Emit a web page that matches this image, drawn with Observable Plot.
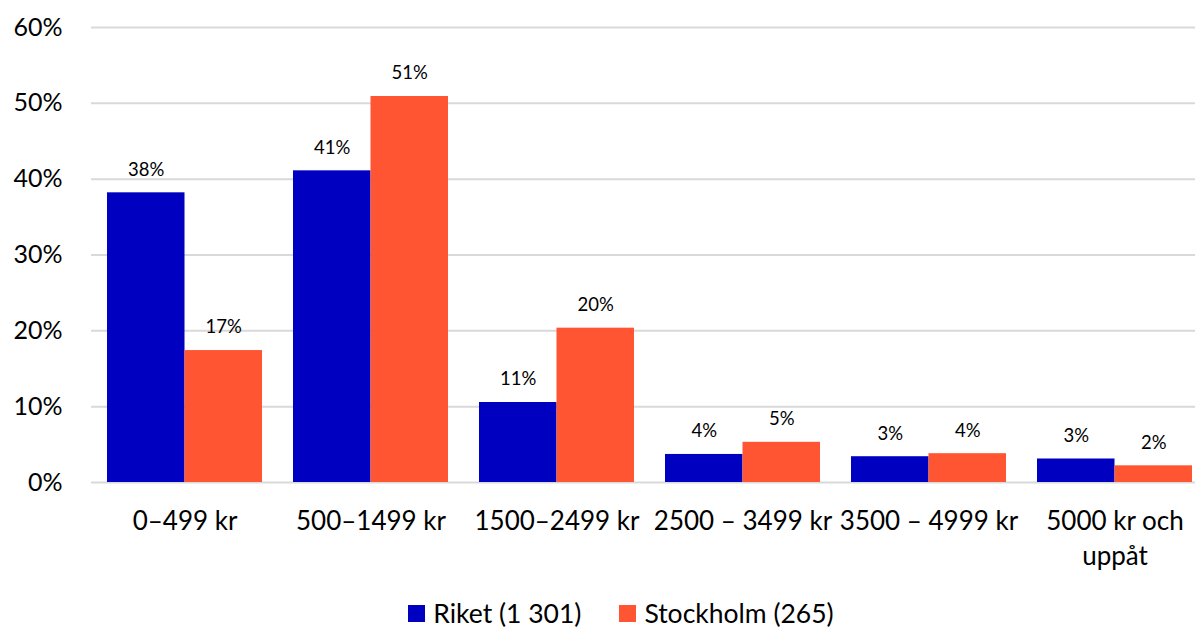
<!DOCTYPE html>
<html>
<head>
<meta charset="utf-8">
<script src="https://cdn.jsdelivr.net/npm/d3@7"></script>
<script src="https://cdn.jsdelivr.net/npm/@observablehq/plot@0.6"></script>
<style>
  body { margin: 0; background: #fff; font-family: Lato, "Open Sans", sans-serif; }
  #chart svg { display: block; }
  .legend { display: flex; justify-content: center; align-items: center; gap: 38px; padding-left: 47px; margin-top: 10px; font-size: 26.5px; line-height: 1; color: #000; }
  .legend .item { display: flex; align-items: center; gap: 8px; }
  .legend .sw { width: 17px; height: 17px; display: inline-block; }
</style>
</head>
<body>
<div id="chart"></div>
<script>
const categories = ["0–499 kr", "500–1499 kr", "1500–2499 kr", "2500 – 3499 kr", "3500 – 4999 kr", "5000 kr och\nuppåt"];
const riket = [38.2, 41.1, 10.55, 3.7, 3.4, 3.1];
const stockholm = [17.4, 50.9, 20.35, 5.3, 3.8, 2.2];
const seriesNames = ["Riket (1 301)", "Stockholm (265)"];
const seriesColors = ["#0000C0", "#FF5533"];
const yTicks = [0, 10, 20, 30, 40, 50, 60];

const data = categories.flatMap((c, i) => [
  {cat: c, series: seriesNames[0], value: riket[i]},
  {cat: c, series: seriesNames[1], value: stockholm[i]}
]);

const W = 1195, H = 590;
const xRange = [91, 1207];
const padIn = 1 / 6, padOut = 1 / 12;
const bw = d3.scaleBand(categories, xRange).paddingInner(padIn).paddingOuter(padOut).bandwidth();

const first = data.filter(d => d.series === seriesNames[0]);
const second = data.filter(d => d.series === seriesNames[1]);
const fmt = d => `${Math.round(d.value)}%`;

const chart = Plot.plot({
  width: W,
  height: H,
  marginLeft: 91,
  marginRight: 0,
  marginTop: 27,
  marginBottom: 108,
  style: {fontFamily: "Lato, 'Open Sans', sans-serif", background: "#fff", color: "#000"},
  x: {domain: categories, range: xRange, paddingInner: padIn, paddingOuter: padOut, axis: null},
  y: {domain: [0, 60], axis: null},
  color: {domain: seriesNames, range: seriesColors},
  marks: [
    Plot.ruleY(yTicks, {stroke: "#D9D9D9", strokeWidth: 2}),
    Plot.barY(first, {x: "cat", y: "value", fill: "series", insetRight: bw / 2}),
    Plot.barY(second, {x: "cat", y: "value", fill: "series", insetLeft: bw / 2}),
    Plot.text(first, {x: "cat", y: "value", text: fmt, dx: -bw / 4, dy: -23, lineAnchor: "middle", fontSize: 18.5, fill: "#000"}),
    Plot.text(second, {x: "cat", y: "value", text: fmt, dx: bw / 4, dy: -23, lineAnchor: "middle", fontSize: 18.5, fill: "#000"}),
    Plot.axisY(yTicks, {anchor: "left", tickSize: 0, tickPadding: 29, tickFormat: d => d + "%", fontSize: 25, fill: "#000", label: null}),
    Plot.axisX({anchor: "bottom", tickSize: 0, tickPadding: 22, fontSize: 26, lineHeight: 1.36, fill: "#000", label: null})
  ]
});
document.getElementById("chart").appendChild(chart);

const legend = document.createElement("div");
legend.className = "legend";
seriesNames.forEach((name, i) => {
  const item = document.createElement("div");
  item.className = "item";
  const sw = document.createElement("span");
  sw.className = "sw";
  sw.style.background = seriesColors[i];
  const t = document.createElement("span");
  t.textContent = name;
  item.appendChild(sw);
  item.appendChild(t);
  legend.appendChild(item);
});
document.getElementById("chart").appendChild(legend);
</script>
</body>
</html>
